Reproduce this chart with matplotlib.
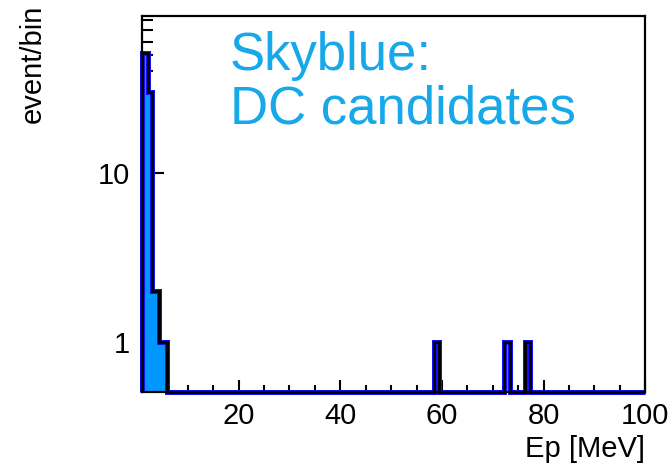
import numpy as np
import matplotlib
matplotlib.use("Agg")
import matplotlib.pyplot as plt
from matplotlib.ticker import FixedLocator, MultipleLocator, NullFormatter, LogLocator

# Histogram of prompt energy (bin edges in MeV, entries per bin)
bin_edges = [1.0, 2.15, 3.0, 4.25, 5.9, 58.4, 59.5, 72.25, 73.35, 76.25, 77.35, 100.0]
counts = [51, 30, 2, 1, 0, 1, 0, 1, 0, 1, 0]

x_range = (1.0, 100.0)
y_range = (0.506, 85.0)
x_major = [20, 40, 60, 80, 100]
y_major = [1, 10]
y_major_labels = ["1", "10"]

fill_color = "#0096ff"
note_color = "#17a8ea"
font = ["Liberation Sans", "DejaVu Sans"]

fig = plt.figure(figsize=(6.72, 4.67), dpi=100)
ax = fig.add_axes([142 / 672, 75 / 467, (645.3 - 142) / 672, 376 / 467])
ax.set_yscale("log")
ax.set_xlim(*x_range)
ax.set_ylim(*y_range)

vals = np.maximum(np.array(counts, dtype=float), y_range[0])
edges = np.array(bin_edges)
ax.stairs(vals, edges, baseline=y_range[0], fill=True, color=fill_color, lw=0, zorder=2)
ax.stairs(vals, edges, baseline=y_range[0], color="#1010ff", lw=3.6, zorder=3, clip_on=False)
ax.stairs(vals, edges, baseline=y_range[0], color="black", lw=2.1, zorder=4, clip_on=False)

for s in ax.spines.values():
    s.set_linewidth(1.6)
    s.set_color("black")
    s.set_zorder(5)

ax.xaxis.set_major_locator(FixedLocator(x_major))
ax.xaxis.set_minor_locator(MultipleLocator(5))
ax.yaxis.set_major_locator(FixedLocator(y_major))
ax.set_yticklabels(y_major_labels)
ax.yaxis.set_minor_locator(LogLocator(base=10, subs=np.arange(2, 10)))
ax.yaxis.set_minor_formatter(NullFormatter())

ax.tick_params(axis="x", which="major", direction="in", length=9, width=1.5, pad=7,
               labelsize=21, top=False)
ax.tick_params(axis="x", which="minor", direction="in", length=5, width=1.5, top=False)
ax.tick_params(axis="y", which="major", direction="in", length=16, width=1.5, pad=9,
               labelsize=21, right=False)
ax.tick_params(axis="y", which="minor", direction="in", length=8, width=1.5, right=False)
for lab in ax.get_xticklabels() + ax.get_yticklabels():
    lab.set_family(font)

ax.set_xlabel("Ep [MeV]", fontsize=21, family=font, loc="right", labelpad=4)
ax.set_ylabel("event/bin", fontsize=21, family=font, loc="top")
ax.yaxis.set_label_coords(-0.19, 1.03)

ax.text(0.175, 0.96, "Skyblue:\nDC candidates", transform=ax.transAxes, ha="left", va="top",
        fontsize=38, color=note_color, family=font, linespacing=1.08)

fig.savefig("out.png", dpi=100)
